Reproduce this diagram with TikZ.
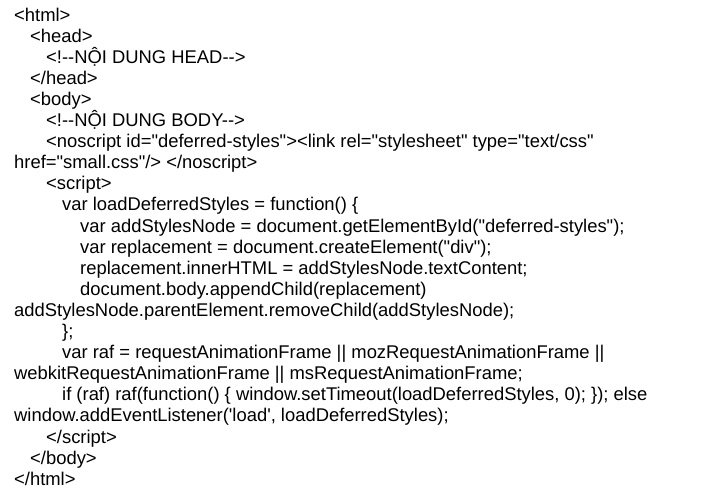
\documentclass[tikz,border=0pt]{standalone}
\usepackage{fontspec}
\newfontfamily\codefont{Liberation Sans}
\usetikzlibrary{positioning}

\begin{document}
\begin{tikzpicture}[
            x=1pt, y=1pt,
            every node/.style={ anchor=base west, inner sep=0pt, font=\codefont\fontsize{18.4}{21}\selectfont }
        ]
        \useasboundingbox (0,0) rectangle (713,-493);

        % tag lines
        \node (l1)  at (14,-21)    {<html>};
        \node (l2)  at (30,-42.1)  {<head>};
        \node (l3)  at (46,-63.2)  {<!--NỘI DUNG HEAD-->};
        \node (l4)  at (30,-84.3)  {</head>};
        \node (l5)  at (30,-105.4) {<body>};
        \node (l6)  at (46,-126.5) {<!--NỘI DUNG BODY-->};
        \node (l7)  at (46,-147.6) {<noscript id="deferred-styles"><link rel="stylesheet" type="text/css"};
        \node (l8)  at (14,-168.7) {href="small.css"/> </noscript>};
        \node (l9)  at (46,-189.8) {<script>};

        % script body
        \node (l10) at (62,-210.9) {var loadDeferredStyles = function() \{};
        \node (l11) at (80,-232)   {var addStylesNode = document.getElementById("deferred-styles");};
        \node (l12) at (80,-253.1) {var replacement = document.createElement("div");};
        \node (l13) at (80,-274.2) {replacement.innerHTML = addStylesNode.textContent;};
        \node (l14) at (80,-295.3) {document.body.appendChild(replacement)};
        \node (l15) at (14,-316.4) {addStylesNode.parentElement.removeChild(addStylesNode);};
        \node (l16) at (62,-337.5) {\};};
        \node (l17) at (62,-358.6) {var raf = requestAnimationFrame || mozRequestAnimationFrame ||};
        \node (l18) at (14,-379.7) {webkitRequestAnimationFrame || msRequestAnimationFrame;};
        \node (l19) at (62,-400.8) {if (raf) raf(function() \{ window.setTimeout(loadDeferredStyles, 0); \}); else};
        \node (l20) at (14,-421.9) {window.addEventListener('load', loadDeferredStyles);};

        % closing tags
        \node (l21) at (46,-443)   {</script>};
        \node (l22) at (30,-464.1) {</body>};
        \node (l23) at (14,-485.2) {</html>};
    \end{tikzpicture}
\end{document}
